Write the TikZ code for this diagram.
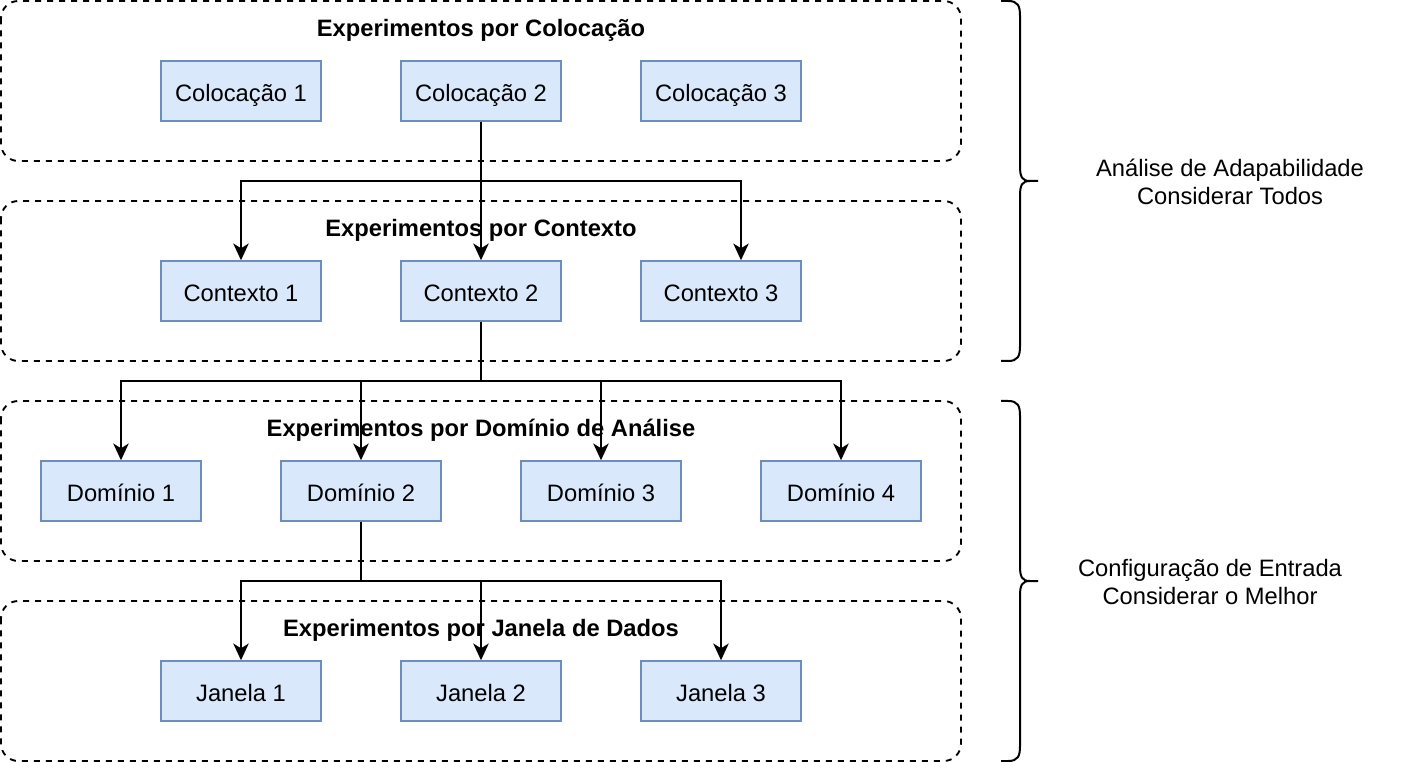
\documentclass[tikz,border=0pt]{standalone}
\usepackage{fontspec}
\setmainfont{Liberation Sans}
\usetikzlibrary{arrows.meta}
\begin{document}
\begin{tikzpicture}[x=0.75pt,y=-0.75pt,
  every node/.style={font=\fontsize{17.8pt}{21.4pt}\selectfont},
  item/.style={draw=boxborder,fill=boxfill,line width=1.1pt,minimum width=120pt,minimum height=45pt,inner sep=0pt,text height=19pt,text depth=3pt},
  group/.style={draw=black,line width=1.4pt,dash pattern=on 4.5pt off 4.5pt,rounded corners=13pt},
  grouptitle/.style={font=\fontsize{17.8pt}{21.4pt}\selectfont\bfseries,anchor=base,inner sep=0pt},
  conn/.style={draw=black,line width=1.5pt,-{Stealth[length=12.5pt,width=11.5pt,inset=3.5pt]}},
  brace/.style={draw=black,line width=1.5pt},
  side/.style={align=center,font=\fontsize{17.8pt}{21.4pt}\selectfont}
]
\definecolor{boxborder}{HTML}{6C8EBF}
\definecolor{boxfill}{HTML}{DAE8FC}
\useasboundingbox (0,0) rectangle (1402,762);

% groups
\draw[group] (1,1) rectangle (961,161);
\draw[group] (1,201) rectangle (961,361);
\draw[group] (1,401) rectangle (961,561);
\draw[group] (1,601) rectangle (961,761);

\node[grouptitle] (t1) at (481,36.5) {Experimentos por Colocação};
\node[grouptitle] (t2) at (481,236.5) {Experimentos por Contexto};
\node[grouptitle] (t3) at (481,436.5) {Experimentos por Domínio de Análise};
\node[grouptitle] (t4) at (481,636.5) {Experimentos por Janela de Dados};

% boxes
\node[item] (c1) at (241,91) {Colocação 1};
\node[item] (c2) at (481,91) {Colocação 2};
\node[item] (c3) at (721,91) {Colocação 3};

\node[item] (x1) at (241,291) {Contexto 1};
\node[item] (x2) at (481,291) {Contexto 2};
\node[item] (x3) at (721,291) {Contexto 3};

\node[item] (d1) at (121,491) {Domínio 1};
\node[item] (d2) at (361,491) {Domínio 2};
\node[item] (d3) at (601,491) {Domínio 3};
\node[item] (d4) at (841,491) {Domínio 4};

\node[item] (j1) at (241,691) {Janela 1};
\node[item] (j2) at (481,691) {Janela 2};
\node[item] (j3) at (721,691) {Janela 3};

% junctions
\coordinate (k1) at (481,181);
\coordinate (k2) at (481,381);
\coordinate (k3) at (361,581);

\draw[conn] (c2.south) -- (x2.north);
\draw[conn] (k1) -| (x1.north);
\draw[conn] (k1) -| ([xshift=15pt]x3.north);

\draw[conn] (x2.south) -- (k2) -| (d1.north);
\draw[conn] (k2) -| (d2.north);
\draw[conn] (k2) -| (d3.north);
\draw[conn] (k2) -| (d4.north);

\draw[conn] (d2.south) -- (k3) -| (j1.north);
\draw[conn] (k3) -| (j2.north);
\draw[conn] (k3) -| (j3.north);

% braces
\draw[brace] (1001,1) -- (1008,1) .. controls (1018,1) and (1020,6) .. (1020,16)
  -- (1020,166) .. controls (1020,177) and (1022,181) .. (1030,181) -- (1038,181);
\draw[brace] (1030,181) .. controls (1022,181) and (1020,185) .. (1020,196)
  -- (1020,346) .. controls (1020,356) and (1018,361) .. (1008,361) -- (1001,361);

\draw[brace] (1001,401) -- (1008,401) .. controls (1018,401) and (1020,406) .. (1020,416)
  -- (1020,566) .. controls (1020,577) and (1022,581) .. (1030,581) -- (1038,581);
\draw[brace] (1030,581) .. controls (1022,581) and (1020,585) .. (1020,596)
  -- (1020,746) .. controls (1020,756) and (1018,761) .. (1008,761) -- (1001,761);

\node[side] (s1) at (1230,182) {Análise de Adapabilidade\\Considerar Todos};
\node[side] (s2) at (1210,582) {Configuração de Entrada\\Considerar o Melhor};
\end{tikzpicture}
\end{document}
